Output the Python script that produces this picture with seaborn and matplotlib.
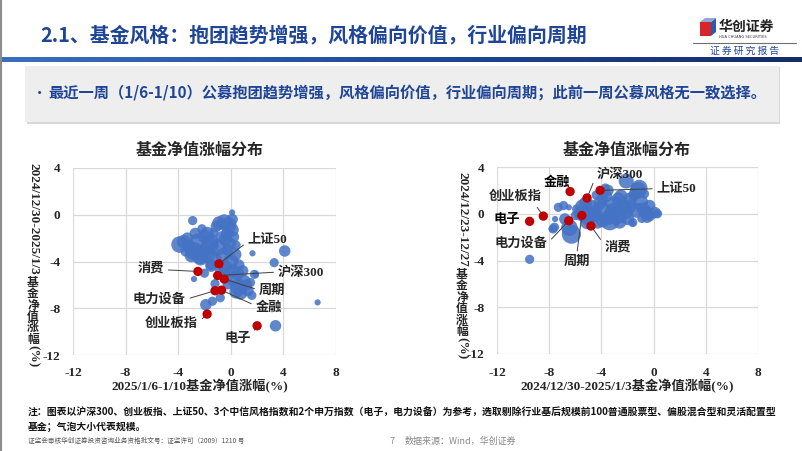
import numpy as np
import pandas as pd
import matplotlib.pyplot as plt
import seaborn as sns
from matplotlib.patches import Rectangle, Polygon
from matplotlib.lines import Line2D
from matplotlib.colors import LinearSegmentedColormap

# ---- data: left chart (x = 2025/1/6-1/10, y = 2024/12/30-2025/1/3) ----
left_x = [0.1, -2.9, -0.9, -0.5, -0.2, 0.1, 0.1, -0.3, -2.7, -3.3, -3.9, -3.6, -2.0, -1.5,
          -1.3, -0.4, -0.25, 1.65, -2.8, -2.3, -3.2, -1.8, -1.5, -2.0, -2.8, 0.0, 0.1, 0.25,
          0.6, 0.75, 1.3, 1.9, -0.4, 0.5, -1.4, -1.9, 4.1, 3.3, 1.8, 6.6, 3.4, -0.8, -1.5,
          -2.3, -1.0, -0.6, -1.2, 0.3, 0.6, 1.0, 1.2, 0.4, -0.2, -1.6, -2.5, -3.0, -1.1, -0.7,
          0.4, -0.8, 0.9, 1.5, 1.6, -1.2, -0.5, -3.4, -2.2, -1.8, 0.2, -0.1]
left_y = [0.2, -0.5, -0.7, -0.6, -0.9, -0.4, -1.3, -1.6, -1.6, -2.0, -2.55, -2.3, -1.85, -2.3,
          -1.55, -2.1, -3.0, -3.3, -3.1, -3.4, -2.7, -3.4, -4.25, -5.0, -5.5, -4.0, -4.8, -5.5,
          -6.2, -6.7, -6.5, -5.1, -4.5, -5.0, -7.4, -7.7, -3.1, -4.1, -5.1, -7.5, -9.5, -7.1,
          -4.4, -3.7, -2.8, -3.5, -3.8, -3.4, -4.3, -5.7, -6.0, -6.6, -5.9, -2.6, -2.3, -3.5,
          -1.0, -1.9, -2.6, -4.6, -4.8, -5.8, -6.9, -5.9, -5.0, -3.1, -1.2, -1.6, -1.9, -2.5]
left_size = [3, 4, 6, 7, 8, 5, 6, 5, 5, 5, 8, 6, 6, 7, 4, 6, 5, 3, 9, 10, 6, 8, 5, 4, 3, 7, 6,
             7, 8, 6, 5, 3, 6, 6, 4, 5, 5, 4, 4, 3, 5, 4, 5, 7, 8, 7, 6, 6, 5, 6, 5, 6, 5, 9,
             8, 6, 5, 5, 4, 5, 5, 4, 4, 4, 5, 5, 4, 6, 5, 6]

left_idx_names = ['上证50', '消费', '沪深300', '周期', '电力设备', '金融', '创业板指', '电子']
left_idx_x = [-0.9, -2.5, -1.0, -0.5, -1.2, -0.7, -1.8, 2.0]
left_idx_y = [-4.2, -4.85, -5.2, -5.5, -6.5, -6.45, -8.5, -9.5]

# ---- data: right chart (x = 2024/12/30-2025/1/3, y = 2024/12/23-12/27) ----
right_x = [-1.2, -3.5, -2.7, -1.8, -3.9, -7.3, -6.9, -6.5, -7.6, -7.7, -6.8, -6.3, -6.45,
           -5.1, -5.4, -4.5, -3.4, -2.85, -1.6, -0.55, -0.3, 0.1, -2.35, -2.1, -4.1, -6.0,
           -9.5, -1.6, -2.1, -1.1, 0.3, -0.3, -0.7, -7.55, -7.8, -3.35, -3.9, -4.6, -5.2,
           -4.8, -4.0, -3.0, -2.5, -1.5, -1.0, -0.8, -0.5, -1.3, -2.0, -4.3, -5.5, -5.0,
           -3.6, -4.4, -3.1, -1.9, -0.9, -5.9, -2.6, -3.7]
right_y = [2.0, 2.0, 1.25, 1.25, 1.25, 0.55, 0.7, 0.55, -1.15, -1.3, -0.45, -1.75, -1.2,
           -0.75, 0.55, 0.1, -0.3, -0.15, -0.75, 0.1, 0.7, 0.1, 0.55, 0.1, 0.95, -0.15,
           -3.9, -0.8, 2.8, 2.2, 0.0, -0.15, 1.7, -0.45, -1.3, -0.6, -0.6, -0.15, 0.9,
           0.5, 0.3, 0.8, 1.5, 1.6, 1.0, 0.4, -0.3, 0.3, -0.4, -0.7, 0.0, -0.3,
           1.5, 1.6, 0.2, 0.6, -0.4, 0.4, -0.7, 2.2]
right_size = [8, 5, 6, 6, 5, 4, 4, 3, 4, 4, 5, 10, 8, 6, 8, 7, 7, 9, 4, 6, 5, 5, 7, 6, 6, 4,
              4, 3, 7, 8, 4, 5, 4, 3, 3, 10, 6, 6, 6, 8, 9, 8, 6, 5, 7, 6, 5, 7, 6, 6, 7, 8,
              5, 4, 8, 7, 4, 4, 6, 4]

right_idx_names = ['金融', '沪深300', '上证50', '创业板指', '电子', '电力设备', '周期', '消费']
right_idx_x = [-6.4, -5.1, -4.1, -8.45, -9.5, -6.5, -5.5, -4.8]
right_idx_y = [1.9, 1.35, 2.0, -0.2, -0.65, -0.6, -0.15, -1.05]

ticks = [-12, -8, -4, 0, 4, 8]
yticks = [-12, -8, -4, 0, 4]

# ---- label placement (data coords of text, alignment, line anchor) ----
left_labels = {
    '上证50': (1.3, -2.1, 'left', (0, 0.3)),
    '消费': (-5.1, -4.6, 'right', (1, 0.4)),
    '沪深300': (3.6, -4.9, 'left', (0, 0.5)),
    '周期': (2.15, -6.55, 'left', (0, 0.6)),
    '电力设备': (-3.45, -7.25, 'right', (1, 0.5)),
    '金融': (1.9, -7.9, 'left', (0, 0.6)),
    '创业板指': (-2.5, -9.35, 'right', (1, 0.6)),
    '电子': (1.5, -10.65, 'right', (1, 0.7)),
}
right_labels = {
    '金融': (-7.4, 2.65, 'center', None),
    '沪深300': (-4.35, 3.4, 'left', (0, 0.5)),
    '上证50': (0.25, 2.15, 'left', (0, 0.5)),
    '创业板指': (-8.55, 1.45, 'right', (0.85, 0.0)),
    '电子': (-10.2, -0.5, 'right', None),
    '电力设备': (-8.15, -2.55, 'right', (1, 0.5)),
    '周期': (-5.9, -4.1, 'center', (0.5, 1)),
    '消费': (-3.75, -2.9, 'left', (0, 0.7)),
}

sns.set_theme(style='white')
CN = ['Noto Sans CJK SC', 'DejaVu Sans']
SERIF = ['Liberation Serif', 'Noto Sans CJK SC']
plt.rcParams['font.family'] = CN

W, H = 802, 451
fig = plt.figure(figsize=(W / 100, H / 100), dpi=100)
fig.patch.set_facecolor('white')


def fx(px):
    return px / W


def fy(py):
    return 1 - py / H


BLUE = '#4472C4'
RED = '#C00000'
TITLE_BLUE = '#1F4597'


def draw_panel(rect, xs, ys, sz, inames, ix, iy, labels):
    ax = fig.add_axes(rect)
    df = pd.DataFrame({'x': xs, 'y': ys, 's': sz})
    sns.scatterplot(data=df, x='x', y='y', size='s', sizes=(20, 190), color=BLUE,
                    alpha=0.85, edgecolor='none', legend=False, ax=ax, zorder=2)
    idx = pd.DataFrame({'x': ix, 'y': iy})
    sns.scatterplot(data=idx, x='x', y='y', color=RED, s=45, edgecolor='none',
                    legend=False, ax=ax, zorder=4)
    for name, px_, py_ in zip(inames, ix, iy):
        tx, ty, ha, rel = labels[name]
        if rel is None:
            ax.text(tx, ty, name, ha=ha, va='center', fontsize=9.5, fontweight='bold',
                    family=SERIF, color='#000000', zorder=5)
        else:
            ax.annotate(name, xy=(px_, py_), xytext=(tx, ty), ha=ha, va='center',
                        fontsize=9.5, fontweight='bold', family=SERIF, zorder=5,
                        arrowprops=dict(arrowstyle='-', color='#404040', lw=0.7,
                                        relpos=rel, shrinkA=1, shrinkB=3))
    ax.set_xlim(-12, 8)
    ax.set_ylim(-12, 4)
    ax.set_xticks(ticks)
    ax.set_yticks(yticks)
    ax.set_xticklabels([str(t) for t in ticks], family=SERIF, fontweight='bold', fontsize=9.5)
    ax.set_yticklabels([str(t) for t in yticks], family=SERIF, fontweight='bold', fontsize=9.5)
    ax.tick_params(axis='both', length=0, pad=9)
    ax.grid(True, color='#D9D9D9', lw=0.9)
    ax.set_axisbelow(True)
    for s in ax.spines.values():
        s.set_visible(False)
    ax.set_xlabel('')
    ax.set_ylabel('')
    return ax


axl = draw_panel([fx(73), fy(355), fx(336) - fx(73), fy(168) - fy(355)],
                 left_x, left_y, left_size, left_idx_names, left_idx_x, left_idx_y, left_labels)
axr = draw_panel([fx(497), fy(354), fx(758) - fx(497), fy(167) - fy(354)],
                 right_x, right_y, right_size, right_idx_names, right_idx_x, right_idx_y, right_labels)

# chart titles and x labels
for cx, xl in [(200, '2025/1/6-1/10基金净值涨幅(%)'), (627, '2024/12/30-2025/1/3基金净值涨幅(%)')]:
    fig.text(fx(cx), fy(150), '基金净值涨幅分布', ha='center', va='center',
             fontsize=11.5, fontweight='bold', family=CN)
    fig.text(fx(cx), fy(386), xl, ha='center', va='center', fontsize=9.5,
             fontweight='bold', family=SERIF)


# vertical y labels: latin part rotated, Chinese characters upright
def vlabel(cx, top, latin, cn_chars, step):
    t = fig.text(fx(cx), fy(top), latin, rotation=-90, ha='center', va='top',
                 fontsize=9.5, fontweight='bold', family=SERIF)
    fig.canvas.draw()
    bb = t.get_window_extent()
    y = H - bb.y0 + 1
    for ch in cn_chars:
        fig.text(fx(cx), fy(y), ch, ha='center', va='top', fontsize=8.5,
                 fontweight='bold', family=CN)
        y += step
    fig.text(fx(cx), fy(y + 1), '(%)', rotation=-90, ha='center', va='top',
             fontsize=9.5, fontweight='bold', family=SERIF)


vlabel(33, 163, '2024/12/30-2025/1/3', '基金净值涨幅', 11.4)
vlabel(462, 172, '2024/12/23-12/27', '基金净值涨幅', 11.4)

# ---- slide decoration ----
fig.add_artist(Line2D([fx(1), fx(1)], [0, 1], color='#8C8C8C', lw=1.5))
fig.text(fx(40), fy(35), '2.1、基金风格：抱团趋势增强，风格偏向价值，行业偏向周期',
         ha='left', va='center', fontsize=14.3, fontweight='bold', color=TITLE_BLUE, family=CN)

# gradient bar under the header
gax = fig.add_axes([0, fy(62), 1, fy(57) - fy(62)])
grad = np.linspace(0, 1, 256).reshape(1, -1)
cmap = LinearSegmentedColormap.from_list('bar', ['#3A6FC0', '#1F4A9A', '#142C6A'])
gax.imshow(grad, aspect='auto', cmap=cmap)
gax.axis('off')

# logo
fig.add_artist(Polygon([[fx(700), fy(22)], [fx(711), fy(22)], [fx(711), fy(36)], [fx(700), fy(36)]],
                       closed=True, facecolor='#D7252C', edgecolor='none'))
fig.add_artist(Polygon([[fx(711), fy(22)], [fx(716), fy(18)], [fx(716), fy(32)], [fx(711), fy(36)]],
                       closed=True, facecolor='#2C5BA8', edgecolor='none'))
fig.add_artist(Polygon([[fx(700), fy(22)], [fx(705), fy(18)], [fx(716), fy(18)], [fx(711), fy(22)]],
                       closed=True, facecolor='#8FA8D6', edgecolor='none'))
fig.text(fx(719), fy(27), '华创证券', ha='left', va='center', fontsize=10,
         fontweight='bold', color='#222222', family=CN)
fig.text(fx(719), fy(36.5), 'HUA CHUANG SECURITIES', ha='left', va='center', fontsize=2.6,
         color='#333333', family=['DejaVu Sans'])
fig.add_artist(Line2D([fx(693), fx(796)], [fy(43), fy(43)], color='#6E6E6E', lw=0.8))
fig.text(fx(745), fy(51), '证 券 研 究 报 告', ha='center', va='center', fontsize=7,
         color=TITLE_BLUE, family=CN)

# grey summary box with shadow
fig.add_artist(Rectangle((fx(27), fy(124)), fx(780) - fx(27), fy(67) - fy(124),
                         facecolor='#BDBDBD', edgecolor='none', alpha=0.6))
fig.add_artist(Rectangle((fx(25), fy(122)), fx(779) - fx(25), fy(66) - fy(122),
                         facecolor='#EEEEEE', edgecolor='none'))
fig.text(fx(32), fy(93), '•', ha='left', va='center', fontsize=11, color=TITLE_BLUE, family=CN)
fig.text(fx(48), fy(93),
         '最近一周（1/6-1/10）公募抱团趋势增强，风格偏向价值，行业偏向周期；此前一周公募风格无一致选择。',
         ha='left', va='center', fontsize=11, fontweight='bold', color=TITLE_BLUE, family=CN)

# footnotes
fig.text(fx(28), fy(413),
         '注：图表以沪深300、创业板指、上证50、3个中信风格指数和2个申万指数（电子，电力设备）为参考，选取剔除行业基后规模前100普通股票型、偏股混合型和灵活配置型',
         ha='left', va='center', fontsize=7.1, fontweight='bold', color='#111111', family=CN)
fig.text(fx(28), fy(427), '基金；气泡大小代表规模。', ha='left', va='center', fontsize=7.1,
         fontweight='bold', color='#111111', family=CN)
fig.text(fx(28), fy(441), '证监会审核华创证券投资咨询业务资格批文号：证监许可（2009）1210 号',
         ha='left', va='center', fontsize=4.8, color='#555555', family=CN)
fig.text(fx(392), fy(441), '7', ha='center', va='center', fontsize=6.5, color='#888888', family=CN)
fig.text(fx(405), fy(441), '数据来源：Wind，华创证券', ha='left', va='center', fontsize=6.5,
         color='#888888', family=CN)

fig.savefig('out.png', dpi=100, facecolor='white')
